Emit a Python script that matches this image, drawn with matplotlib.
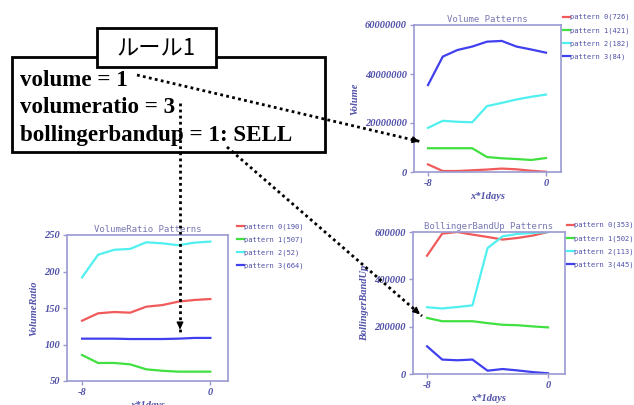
import matplotlib
matplotlib.use('Agg')
import matplotlib.pyplot as plt
from matplotlib.patches import Rectangle

W, H = 634, 405

days = [-8, -7, -6, -5, -4, -3, -2, -1, 0]

# Volume Patterns
vol_counts = [726, 421, 182, 84]
vol_p0 = [3100000, 400000, 400000, 700000, 1000000, 1400000, 1100000, 500000, 100000]
vol_p1 = [9700000, 9700000, 9700000, 9700000, 6100000, 5600000, 5300000, 4900000, 5700000]
vol_p2 = [18000000, 20900000, 20500000, 20300000, 26900000, 28200000, 29600000, 30700000, 31600000]
vol_p3 = [35500000, 47100000, 49800000, 51200000, 53200000, 53500000, 51200000, 50000000, 48700000]

# VolumeRatio Patterns
vr_counts = [190, 507, 52, 664]
vr_p0 = [132.6, 142.7, 144.5, 143.6, 151.8, 154, 158.7, 161, 162.3]
vr_p1 = [85.6, 74.7, 74.7, 72.8, 66, 64, 62.8, 62.8, 62.8]
vr_p2 = [192, 223, 229.7, 231, 240, 238.6, 236, 239.5, 241]
vr_p3 = [108, 108, 108, 107.5, 107.5, 107.5, 108, 109, 109]

# BollingerBandUp Patterns
bb_counts = [353, 502, 113, 445]
bb_p0 = [500000, 593000, 600000, 589000, 579000, 568000, 575000, 585000, 600000]
bb_p1 = [237000, 223000, 223000, 223000, 215000, 208000, 206000, 201000, 197000]
bb_p2 = [282000, 277000, 283000, 290000, 532000, 582000, 592000, 596000, 600000]
bb_p3 = [117000, 61000, 58000, 61000, 14000, 21000, 15000, 8000, 3000]

colors = ['#f05a5a', '#40e040', '#50f0f0', '#4040f0']
frame_c = '#9a9ad2'
tick_c = '#5050a8'
title_c = '#7878b4'


def rect(l, t, r, b):
    return [l / W, 1 - b / H, (r - l) / W, (b - t) / H]


def panel(fig, box, series, counts, title, ylabel, ylim, yticks, xlim, leg_xy):
    ax = fig.add_axes(rect(*box))
    for vals, c, n, k in zip(series, colors, counts, range(4)):
        ax.plot(days, vals, color=c, lw=1.6, label='pattern %d(%d)' % (k, n))
    ax.set_xlim(*xlim)
    ax.set_ylim(*ylim)
    ax.set_xticks([-8, 0])
    ax.set_xticklabels(['-8', '0'])
    ax.set_yticks(yticks)
    ax.set_yticklabels([str(v) for v in yticks])
    for s in ax.spines.values():
        s.set_color(frame_c)
        s.set_linewidth(1.2)
    ax.tick_params(colors=frame_c, length=3, width=1, pad=2)
    for lab in ax.get_xticklabels() + ax.get_yticklabels():
        lab.set_color(tick_c)
        lab.set_fontfamily('Liberation Serif')
        lab.set_fontstyle('italic')
        lab.set_fontweight('bold')
        lab.set_fontsize(7.5)
    ax.set_title(title, color=title_c, fontsize=6.5, family='DejaVu Sans Mono', pad=2)
    lab_kw = dict(color=tick_c, family='Liberation Serif', style='italic',
                  weight='bold', fontsize=7.5)
    ax.set_xlabel('x*1days', labelpad=3, **lab_kw)
    ax.set_ylabel(ylabel, labelpad=4, **lab_kw)
    fig.legend(*ax.get_legend_handles_labels(), loc='upper left',
               bbox_to_anchor=(leg_xy[0] / W, 1 - leg_xy[1] / H),
               frameon=False, borderpad=0, borderaxespad=0,
               handlelength=1.0, handletextpad=0.05, labelspacing=0.95,
               prop={'family': 'DejaVu Sans Mono', 'size': 5.1}, labelcolor=tick_c)
    return ax


fig = plt.figure(figsize=(W / 100, H / 100), dpi=100, facecolor='w')

panel(fig, (414, 25, 561, 172), [vol_p0, vol_p1, vol_p2, vol_p3], vol_counts,
      'Volume Patterns', 'Volume', (0, 60000000),
      [0, 20000000, 40000000, 60000000], (-8.95, 1.02), (563, 14))
panel(fig, (67, 235, 228, 381), [vr_p0, vr_p1, vr_p2, vr_p3], vr_counts,
      'VolumeRatio Patterns', 'VolumeRatio', (50, 250),
      [50, 100, 150, 200, 250], (-8.94, 1.1), (237, 223))
panel(fig, (413, 232, 565, 374), [bb_p0, bb_p1, bb_p2, bb_p3], bb_counts,
      'BollingerBandUp Patterns', 'BollingerBandUp', (0, 600000),
      [0, 200000, 400000, 600000], (-8.93, 1.12), (567, 222))

# overlay: rule box and dotted arrows
ov = fig.add_axes([0, 0, 1, 1], zorder=10)
ov.set_xlim(0, W)
ov.set_ylim(H, 0)
ov.axis('off')
ov.patch.set_alpha(0)

ov.add_patch(Rectangle((12, 57), 313, 95, fill=False, ec='k', lw=2))
ov.add_patch(Rectangle((97, 28), 119, 39, fc='w', ec='k', lw=2))
ov.text(156, 48, 'ルール1', ha='center', va='center', fontsize=16,
        family=['Noto Sans CJK JP', 'DejaVu Sans'])

rule_lines = ['volume = 1', 'volumeratio = 3', 'bollingerbandup = 1: SELL']
for i, s in enumerate(rule_lines):
    ov.text(20, 80 + i * 27.5, s, ha='left', va='center', fontsize=16.6,
            family='Liberation Serif', weight='bold')

arrows = [((137, 75), (422, 142)), ((180, 103), (180, 332)), ((227, 147), (422, 316))]
for (x0, y0), (x1, y1) in arrows:
    ov.plot([x0, x1], [y0, y1], color='k', lw=2, ls=(0, (1, 1.2)))
    dx, dy = x1 - x0, y1 - y0
    d = (dx ** 2 + dy ** 2) ** 0.5
    ov.annotate('', xy=(x1, y1), xytext=(x1 - 8 * dx / d, y1 - 8 * dy / d),
                arrowprops=dict(arrowstyle='-|>', color='k', lw=1, mutation_scale=10))

fig.savefig('out.png', dpi=100, facecolor='w')
